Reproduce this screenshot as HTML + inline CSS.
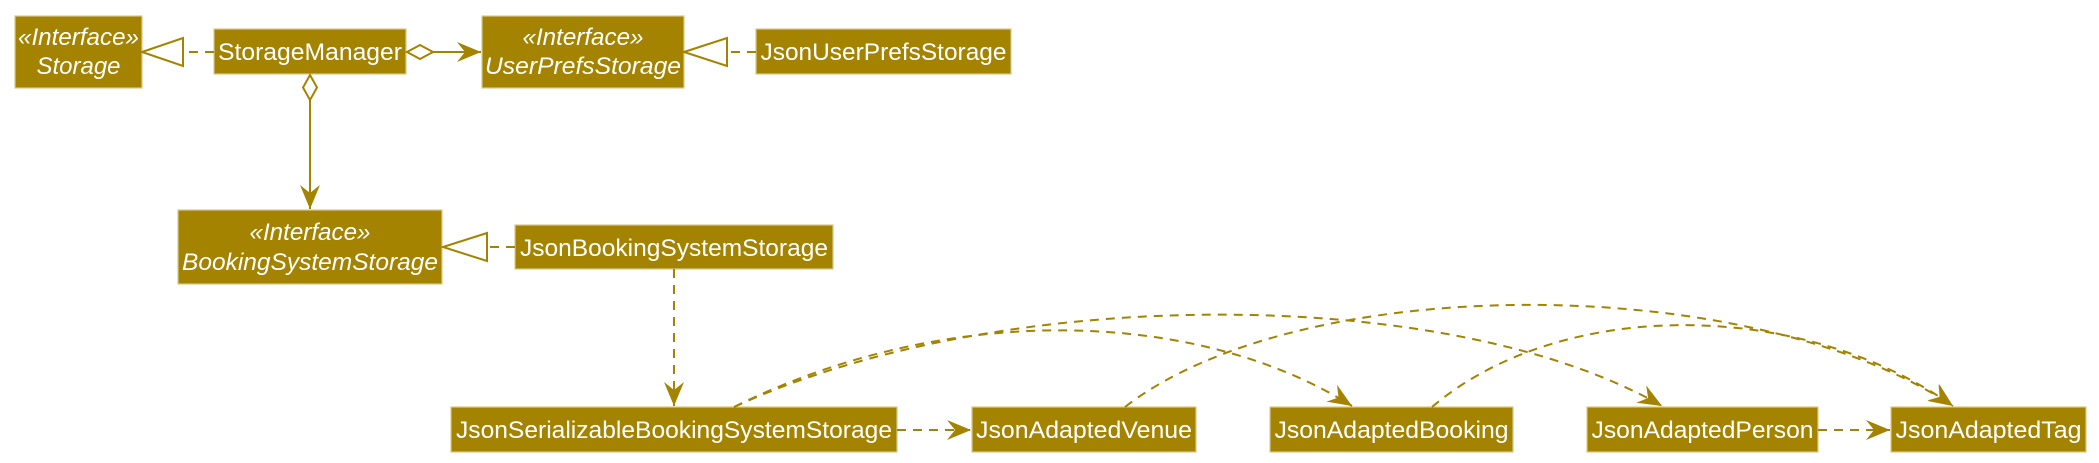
<!DOCTYPE html>
<html><head><meta charset="utf-8"><style>
html,body{margin:0;padding:0;background:#fff;}
svg{display:block;}
text{font-family:"Liberation Sans",Arial,sans-serif;fill:#fff;font-size:24px;}
.b{fill:#A38300;stroke:#D8C890;stroke-width:1.2;}
.l{fill:none;stroke:#A38300;stroke-width:2;}
.d{stroke-dasharray:9,7;}
</style></head><body>
<svg width="2099" height="463" viewBox="0 0 2099 463" xmlns="http://www.w3.org/2000/svg">
<defs>
<marker id="a" markerWidth="26" markerHeight="20" refX="24" refY="10" orient="auto" markerUnits="userSpaceOnUse">
<path d="M0,0 L24,10 L0,20 L8,10 Z" fill="#A38300"/>
</marker>
</defs>
<rect class="b" x="15" y="16" width="127" height="72"/>
<text x="78.5" y="45" text-anchor="middle" font-style="italic" textLength="121" lengthAdjust="spacingAndGlyphs">«Interface»</text>
<text x="78.5" y="74" text-anchor="middle" font-style="italic" textLength="84" lengthAdjust="spacingAndGlyphs">Storage</text>

<rect class="b" x="214" y="29" width="192" height="45"/>
<text x="310" y="60" text-anchor="middle" textLength="184" lengthAdjust="spacingAndGlyphs">StorageManager</text>

<rect class="b" x="482" y="16" width="202" height="72"/>
<text x="583" y="45" text-anchor="middle" font-style="italic" textLength="121" lengthAdjust="spacingAndGlyphs">«Interface»</text>
<text x="583" y="74" text-anchor="middle" font-style="italic" textLength="196" lengthAdjust="spacingAndGlyphs">UserPrefsStorage</text>

<rect class="b" x="756" y="29" width="255" height="45"/>
<text x="883.5" y="60" text-anchor="middle" textLength="246" lengthAdjust="spacingAndGlyphs">JsonUserPrefsStorage</text>

<rect class="b" x="178" y="210" width="264" height="74"/>
<text x="310" y="240" text-anchor="middle" font-style="italic" textLength="121" lengthAdjust="spacingAndGlyphs">«Interface»</text>
<text x="310" y="270" text-anchor="middle" font-style="italic" textLength="256" lengthAdjust="spacingAndGlyphs">BookingSystemStorage</text>

<rect class="b" x="515" y="225" width="318" height="44"/>
<text x="674" y="256" text-anchor="middle" textLength="308" lengthAdjust="spacingAndGlyphs">JsonBookingSystemStorage</text>

<rect class="b" x="451" y="407" width="446" height="45"/>
<text x="674" y="438" text-anchor="middle" textLength="436" lengthAdjust="spacingAndGlyphs">JsonSerializableBookingSystemStorage</text>

<rect class="b" x="972" y="407" width="224" height="45"/>
<text x="1084" y="438" text-anchor="middle" textLength="216" lengthAdjust="spacingAndGlyphs">JsonAdaptedVenue</text>

<rect class="b" x="1270" y="407" width="243" height="45"/>
<text x="1391.5" y="438" text-anchor="middle" textLength="234" lengthAdjust="spacingAndGlyphs">JsonAdaptedBooking</text>

<rect class="b" x="1587" y="407" width="231" height="45"/>
<text x="1702.5" y="438" text-anchor="middle" textLength="222" lengthAdjust="spacingAndGlyphs">JsonAdaptedPerson</text>

<rect class="b" x="1891" y="407" width="195" height="45"/>
<text x="1988.5" y="438" text-anchor="middle" textLength="186" lengthAdjust="spacingAndGlyphs">JsonAdaptedTag</text>

<path class="l d" d="M214,52 L183,52"/>
<path class="l" d="M142,52 L183,38 L183,66 Z" fill="#fff"/>
<path class="l d" d="M756,52 L727,52"/>
<path class="l" d="M684,52 L727,38 L727,66 Z" fill="#fff"/>
<path class="l d" d="M515,247 L487,247"/>
<path class="l" d="M443,247 L487,233 L487,261 Z" fill="#fff"/>

<path class="l" d="M407,52 L420,45 L433,52 L420,59 Z" fill="#fff"/>
<path class="l" d="M433,52 L481,52" marker-end="url(#a)"/>
<path class="l" d="M310,75 L317,87.5 L310,100 L303,87.5 Z" fill="#fff"/>
<path class="l" d="M310,100 L310,209" marker-end="url(#a)"/>

<path class="l d" d="M674,269 L674,406" marker-end="url(#a)"/>
<path class="l d" d="M897,430 L971,430" marker-end="url(#a)"/>
<path class="l d" d="M1818,430 L1890,430" marker-end="url(#a)"/>
<path class="l d" d="M734,407 C950,300 1200,310 1352,406" marker-end="url(#a)"/>
<path class="l d" d="M734,407 C1000,284 1450,284 1662,406" marker-end="url(#a)"/>
<path class="l d" d="M1125,407 C1300,271 1750,271 1953,406" marker-end="url(#a)"/>
<path class="l d" d="M1432,407 C1560,298 1800,298 1953,406" marker-end="url(#a)"/>
</svg>
</body></html>
